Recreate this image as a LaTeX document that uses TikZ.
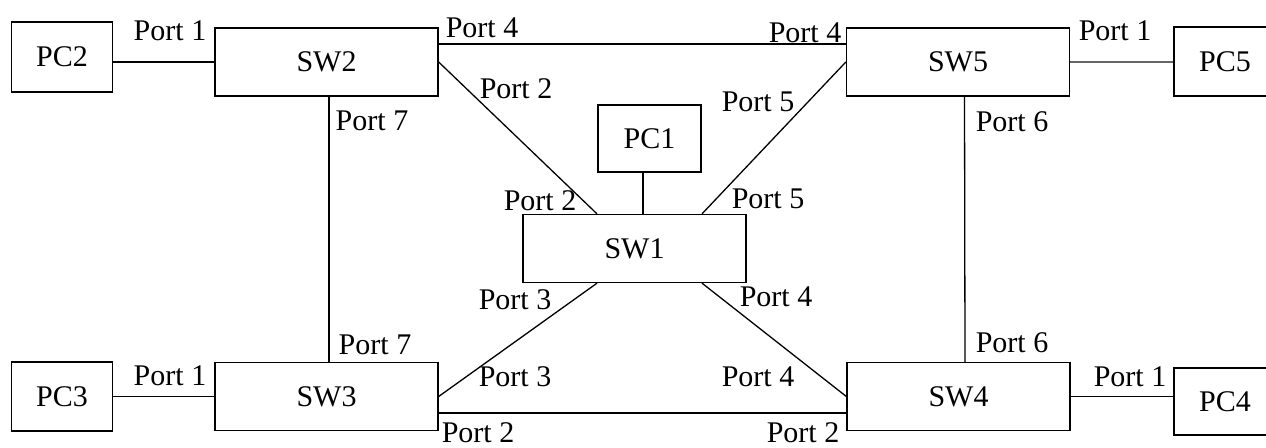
\documentclass[tikz,border=0pt]{standalone}
\usepackage{fontspec}
\setmainfont{Liberation Serif}

\begin{document}
\begin{tikzpicture}[x=1pt,y=-1pt,line width=1.3pt,
		font=\fontsize{30}{36}\selectfont,
		swbox/.style={draw,minimum width=223pt,minimum height=68pt,inner sep=0pt},
		pcbox/.style={draw,minimum width=101pt,minimum height=69pt,inner sep=0pt},
		port/.style={inner sep=0pt}]
			\useasboundingbox (0,0) rectangle (1266,447);
			
			\node[swbox] (sw1) at (634.5,248.5) {SW1};
			\node[swbox] (sw2) at (326.5,62) {SW2};
			\node[swbox] (sw3) at (326.5,396.5) {SW3};
			\node[swbox] (sw4) at (958.5,396.5) {SW4};
			\node[swbox] (sw5) at (958,62) {SW5};
			\node[pcbox,minimum width=103pt,minimum height=67pt] (pc1) at (649.5,138.5) {PC1};
			\node[pcbox,minimum height=70pt] (pc2) at (62,57) {PC2};
			\node[pcbox] (pc3) at (62,396.5) {PC3};
			\node[pcbox,minimum width=102pt,minimum height=67pt] (pc4) at (1225,401.5) {PC4};
			\node[pcbox,minimum width=102pt] (pc5) at (1225,61.5) {PC5};
			
			\draw (pc2.east |- sw2.west) -- (sw2.west);
			\draw (pc3.east) -- (sw3.west);
			\draw (sw4.east) -- (sw4.east -| pc4.west);
			\draw[gray!80!black,line width=2.6pt] (sw5.east) -- (sw5.east -| pc5.west);
			\draw ([xshift=-6.5pt]pc1.south) -- ([xshift=-6.5pt]pc1.south |- sw1.north);
			
			\draw ([yshift=18pt]sw2.east) -- ([yshift=18pt]sw5.west);
			\draw ([yshift=-16.5pt]sw3.east) -- ([yshift=-16.5pt]sw4.west);
			\draw ([xshift=2.5pt]sw2.south) -- ([xshift=2.5pt]sw3.north);
			\draw ([xshift=6.5pt]sw5.south) -- ([xshift=6.5pt]sw4.north);
			\draw (sw2.east) -- ([xshift=-37.5pt]sw1.north);
			\draw (sw5.west) -- ([xshift=67.5pt]sw1.north);
			\draw (sw3.east) -- ([xshift=-37.5pt]sw1.south);
			\draw (sw4.west) -- ([xshift=67.5pt]sw1.south);
			
			\node[port] (l21) at (170,31) {Port 1};
			\node[port] (l24) at (482,28) {Port 4};
			\node[port] (l22) at (516,89) {Port 2};
			\node[port] (l27) at (372,121) {Port 7};
			\node[port] (l54) at (805,33) {Port 4};
			\node[port] (l55) at (758,102) {Port 5};
			\node[port] (l51) at (1115,31) {Port 1};
			\node[port] (l56) at (1012,122) {Port 6};
			\node[port] (l12) at (540,201) {Port 2};
			\node[port] (l15) at (768,199) {Port 5};
			\node[port] (l13) at (515,300) {Port 3};
			\node[port] (l14) at (776,297) {Port 4};
			\node[port] (l37) at (375,345) {Port 7};
			\node[port] (l31) at (170,376) {Port 1};
			\node[port] (l33) at (515,377) {Port 3};
			\node[port] (l32) at (478,433) {Port 2};
			\node[port] (l44) at (758,377) {Port 4};
			\node[port] (l46) at (1012,343) {Port 6};
			\node[port] (l41) at (1130,377) {Port 1};
			\node[port] (l42) at (803,433) {Port 2};
			
		\end{tikzpicture}
\end{document}
